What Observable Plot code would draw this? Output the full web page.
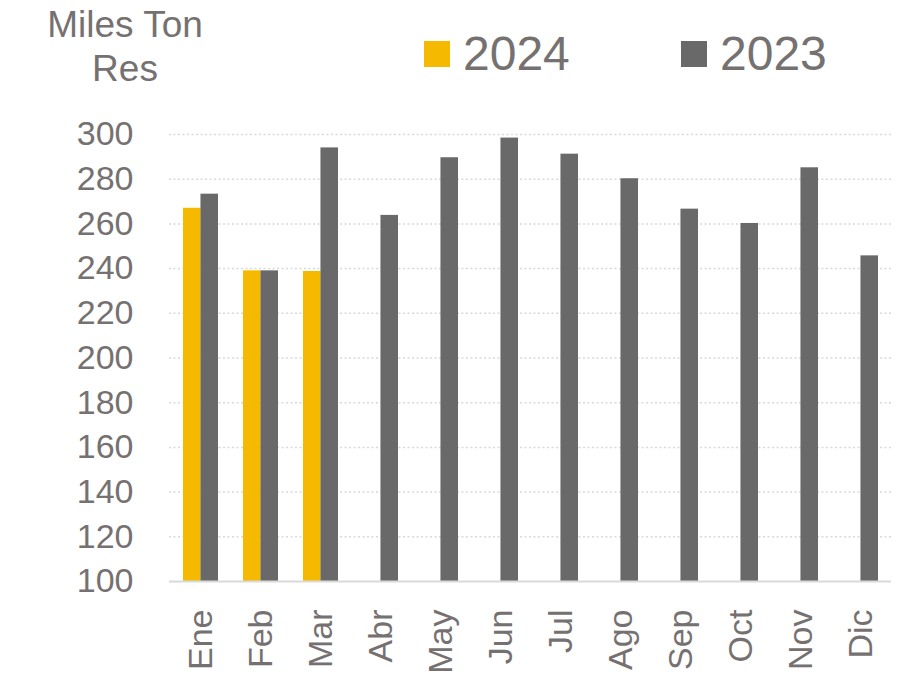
<!DOCTYPE html>
<html>
<head>
<meta charset="utf-8">
<script src="https://cdn.jsdelivr.net/npm/d3@7"></script>
<script src="https://cdn.jsdelivr.net/npm/@observablehq/plot@0.6"></script>
<style>
  html, body { margin: 0; padding: 0; background: #fff; }
  #wrap { position: relative; width: 897px; height: 685px; font-family: "Liberation Sans", Arial, sans-serif; color: #767171; }
  .ttl { position: absolute; font-size: 37px; line-height: 44px; text-align: center; left: 25px; width: 200px; top: 3px; }
  .leg { position: absolute; top: 26px; font-size: 48px; line-height: 56px; display: flex; align-items: center; }
  .sw { display: inline-block; width: 26px; height: 26px; margin-right: 13px; }
</style>
</head>
<body>
<div id="wrap">
  <div class="ttl">Miles Ton<br>Res</div>
  <div class="leg" style="left:424px"><span class="sw" style="background:#F5BA00"></span>2024</div>
  <div class="leg" style="left:681px"><span class="sw" style="background:#696969"></span>2023</div>
  <div id="chart"></div>
</div>
<script>
const months = ["Ene","Feb","Mar","Abr","May","Jun","Jul","Ago","Sep","Oct","Nov","Dic"];
const years = ["2024","2023"];
const values2024 = [267, 239, 238.7];
const values2023 = [273.3, 239, 294, 263.8, 289.6, 298.4, 291.2, 280.2, 266.6, 260.2, 285.1, 245.7];
const yTicks = [100,120,140,160,180,200,220,240,260,280,300];
const colors = ["#F5BA00", "#696969"];

const rows2024 = values2024.map((v, i) => ({month: months[i], year: "2024", value: v}));
const rows2023 = values2023.map((v, i) => ({month: months[i], year: "2023", value: v}));

const W = 897, ML = 169, MR = 6;
const pInner = 0.42, pOuter = 0.21;
const step = (W - ML - MR) / (months.length - pInner + 2 * pOuter);
const half = step * (1 - pInner) / 2;

const chart = Plot.plot({
  width: W,
  height: 685,
  marginTop: 134,
  marginBottom: 104,
  marginLeft: ML,
  marginRight: MR,
  style: {fontFamily: "'Liberation Sans', Arial, sans-serif", color: "#767171", background: "#fff"},
  x: {domain: months, paddingInner: pInner, paddingOuter: pOuter, label: null},
  y: {domain: [100, 300], ticks: yTicks, label: null},
  color: {domain: years, range: colors},
  marks: [
    Plot.ruleY(yTicks.filter(d => d > 100), {stroke: "#d9d9d9", strokeWidth: 1.5, strokeDasharray: "2,2.5"}),
    Plot.barY(rows2024, {x: "month", y1: 100, y2: "value", fill: "year", insetRight: half}),
    Plot.barY(rows2023, {x: "month", y1: 100, y2: "value", fill: "year", insetLeft: half}),
    Plot.ruleY([100], {stroke: "#d9d9d9", strokeWidth: 2}),
    Plot.axisY({ticks: yTicks, tickSize: 0, tickPadding: 36, fontSize: 34, fill: "#767171", label: null}),
    Plot.axisX({tickRotate: -90, tickSize: 0, tickPadding: 28, fontSize: 34, fill: "#767171", label: null})
  ]
});
document.getElementById("chart").appendChild(chart);
</script>
</body>
</html>
